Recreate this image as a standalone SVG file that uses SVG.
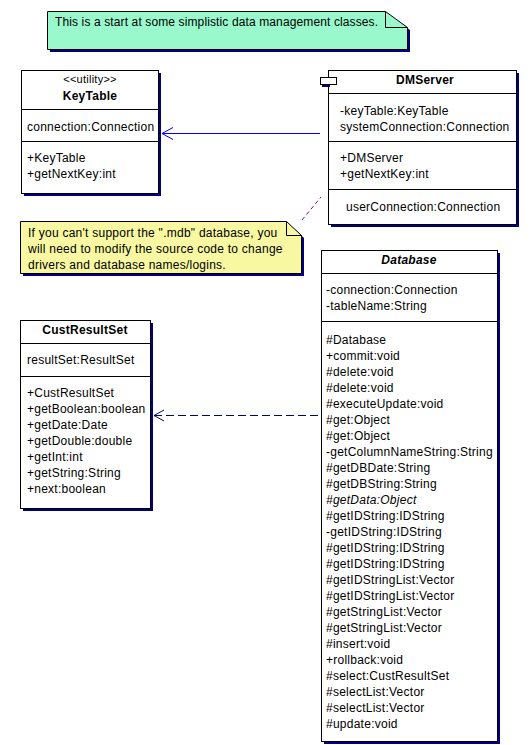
<svg xmlns="http://www.w3.org/2000/svg" width="530" height="745" viewBox="0 0 530 745">
<style>
text{font-family:"Liberation Sans",Arial,sans-serif;font-size:12px;fill:#000;letter-spacing:0.25px}
.t{font-weight:bold;text-anchor:middle}
.st{font-size:11px;text-anchor:middle}
.it{font-style:italic}
.box{fill:#fff;stroke:#000;stroke-width:1}
.sh{fill:#000080}
.ln{stroke:#000;stroke-width:1;fill:none}
</style>
<rect width="530" height="745" fill="#fff"/>
<g id="note-top">
<polygon class="sh" points="50,14 388,14 410,30 410,52 50,52"/>
<polygon points="47.5,11.5 385.5,11.5 407.5,27.5 407.5,49.5 47.5,49.5" fill="#99f8cc" stroke="#000"/>
<polyline class="ln" points="385.5,11.5 385.5,27.5 407.5,27.5"/>
<text x="55" y="26" style="letter-spacing:0.12px">This is a start at some simplistic data management classes.</text>
</g>
<g id="KeyTable">
<rect class="sh" x="24" y="73" width="137" height="123"/>
<rect class="box" x="21.5" y="70.5" width="137" height="123"/>
<line class="ln" x1="21.5" y1="109.5" x2="158.5" y2="109.5"/>
<line class="ln" x1="21.5" y1="141.5" x2="158.5" y2="141.5"/>
<text class="st" x="90" y="83">&lt;&lt;utility&gt;&gt;</text>
<text class="t" x="90" y="100">KeyTable</text>
<text x="27" y="131">connection:Connection</text>
<text x="27" y="162">+KeyTable</text>
<text x="27" y="178">+getNextKey:int</text>
</g>
<g id="DMServer">
<rect class="sh" x="331" y="73" width="188" height="154"/>
<rect class="box" x="328.5" y="70.5" width="188" height="154"/>
<rect class="sh" x="322" y="79" width="8" height="8"/>
<rect class="box" x="320.5" y="77.5" width="16" height="7"/>
<line class="ln" x1="328.5" y1="93.5" x2="516.5" y2="93.5"/>
<line class="ln" x1="328.5" y1="141.5" x2="516.5" y2="141.5"/>
<line class="ln" x1="328.5" y1="189.5" x2="516.5" y2="189.5"/>
<text class="t" x="425" y="84">DMServer</text>
<text x="340" y="115">-keyTable:KeyTable</text>
<text x="340" y="131">systemConnection:Connection</text>
<text x="340" y="162">+DMServer</text>
<text x="340" y="178">+getNextKey:int</text>
<text x="346" y="211">userConnection:Connection</text>
</g>
<g id="note-mdb">
<polygon class="sh" points="23,224 289,224 304,238 304,276 23,276"/>
<polygon points="20.5,221.5 286.5,221.5 301.5,235.5 301.5,273.5 20.5,273.5" fill="#f8f8a2" stroke="#000"/>
<polyline class="ln" points="286.5,221.5 286.5,235.5 301.5,235.5"/>
<text x="28" y="237">If you can't support the ".mdb" database, you</text>
<text x="28" y="253">will need to modify the source code to change</text>
<text x="28" y="269">drivers and database names/logins.</text>
</g>
<g id="CustResultSet">
<rect class="sh" x="23" y="323" width="130" height="188"/>
<rect class="box" x="20.5" y="320.5" width="130" height="188"/>
<line class="ln" x1="20.5" y1="343.5" x2="150.5" y2="343.5"/>
<line class="ln" x1="20.5" y1="376.5" x2="150.5" y2="376.5"/>
<text class="t" x="85" y="334">CustResultSet</text>
<text x="27" y="364">resultSet:ResultSet</text>
<text x="27" y="397">+CustResultSet</text>
<text x="27" y="413">+getBoolean:boolean</text>
<text x="27" y="429">+getDate:Date</text>
<text x="27" y="445">+getDouble:double</text>
<text x="27" y="461">+getInt:int</text>
<text x="27" y="477">+getString:String</text>
<text x="27" y="493">+next:boolean</text>
</g>
<g id="Database">
<rect class="sh" x="324" y="253" width="176" height="491"/>
<rect class="box" x="321.5" y="250.5" width="176" height="491"/>
<line class="ln" x1="321.5" y1="273.5" x2="497.5" y2="273.5"/>
<line class="ln" x1="321.5" y1="321.5" x2="497.5" y2="321.5"/>
<text class="t it" x="409" y="264">Database</text>
<text x="326" y="294">-connection:Connection</text>
<text x="326" y="310">-tableName:String</text>
<text x="326" y="344">#Database</text>
<text x="326" y="360">+commit:void</text>
<text x="326" y="376">#delete:void</text>
<text x="326" y="392">#delete:void</text>
<text x="326" y="408">#executeUpdate:void</text>
<text x="326" y="424">#get:Object</text>
<text x="326" y="440">#get:Object</text>
<text x="326" y="456">-getColumnNameString:String</text>
<text x="326" y="472">#getDBDate:String</text>
<text x="326" y="488">#getDBString:String</text>
<text class="it" x="326" y="504">#getData:Object</text>
<text x="326" y="520">#getIDString:IDString</text>
<text x="326" y="536">-getIDString:IDString</text>
<text x="326" y="552">#getIDString:IDString</text>
<text x="326" y="568">#getIDString:IDString</text>
<text x="326" y="584">#getIDStringList:Vector</text>
<text x="326" y="600">#getIDStringList:Vector</text>
<text x="326" y="616">#getStringList:Vector</text>
<text x="326" y="632">#getStringList:Vector</text>
<text x="326" y="648">#insert:void</text>
<text x="326" y="664">+rollback:void</text>
<text x="326" y="680">#select:CustResultSet</text>
<text x="326" y="696">#selectList:Vector</text>
<text x="326" y="712">#selectList:Vector</text>
<text x="326" y="728">#update:void</text>
</g>
<g id="connectors" fill="none">
<line x1="162" y1="133.5" x2="320" y2="133.5" stroke="#0000ff"/>
<polyline points="173,127.5 162,133.5 173,139.5" stroke="#0000ff"/>
<line x1="154" y1="415.5" x2="318" y2="415.5" stroke="#000080" stroke-dasharray="8 4"/>
<polyline points="164,410 154,415.5 164,421" stroke="#000080"/>
<line x1="302" y1="220" x2="321" y2="197" stroke="#800080" stroke-dasharray="4 3"/>
</g>
</svg>
